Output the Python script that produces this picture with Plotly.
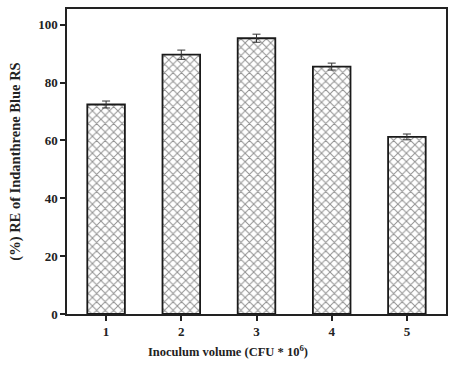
import plotly.graph_objects as go

categories = [1, 2, 3, 4, 5]
values = [72.4, 89.6, 95.3, 85.5, 61.2]
errors = [1.2, 1.6, 1.4, 1.2, 1.0]
y_ticks = [0, 20, 40, 60, 80, 100]

fig = go.Figure()
fig.add_trace(go.Bar(
    x=categories, y=values, width=0.5,
    marker=dict(color="white", line=dict(color="#1a1a1a", width=1.8),
                pattern=dict(shape="x", fgcolor="#222", bgcolor="white", size=6, solidity=0.3)),
    error_y=dict(type="data", array=errors, color="#333", thickness=1, width=4),
))
font = dict(family="Liberation Serif, Times New Roman, serif", size=13, color="#222")
fig.update_layout(
    width=456, height=368, margin=dict(l=67, r=10, t=7, b=54),
    plot_bgcolor="white", paper_bgcolor="white", showlegend=False,
    font=font,
    xaxis=dict(range=[0.48, 5.52], tickvals=categories, ticktext=[f"<b>{c}</b>" for c in categories],
               showline=True, linecolor="#222", linewidth=1.5, mirror=True,
               ticks="outside", ticklen=5, tickcolor="#222", tickwidth=1.5,
               showgrid=False, zeroline=False),
    yaxis=dict(range=[0, 105.4], tickvals=y_ticks,
               ticktext=[f"<b>{v}</b>" for v in y_ticks],
               showline=True, linecolor="#222", linewidth=1.5, mirror=True,
               ticks="outside", ticklen=5, tickcolor="#222", tickwidth=1.5,
               showgrid=False, zeroline=False,
               title=dict(text="<b>(%) RE of Indanthrene Blue RS</b>", font=dict(size=14.5), standoff=14)),
    annotations=[dict(text="<b>Inoculum volume (CFU * 10<sup>6</sup>)</b>", xref="paper", yref="paper",
                      x=0.425, y=-0.12, xanchor="center", yanchor="middle", showarrow=False,
                      font=dict(size=12.5))],
)
fig.write_html("out.html")
